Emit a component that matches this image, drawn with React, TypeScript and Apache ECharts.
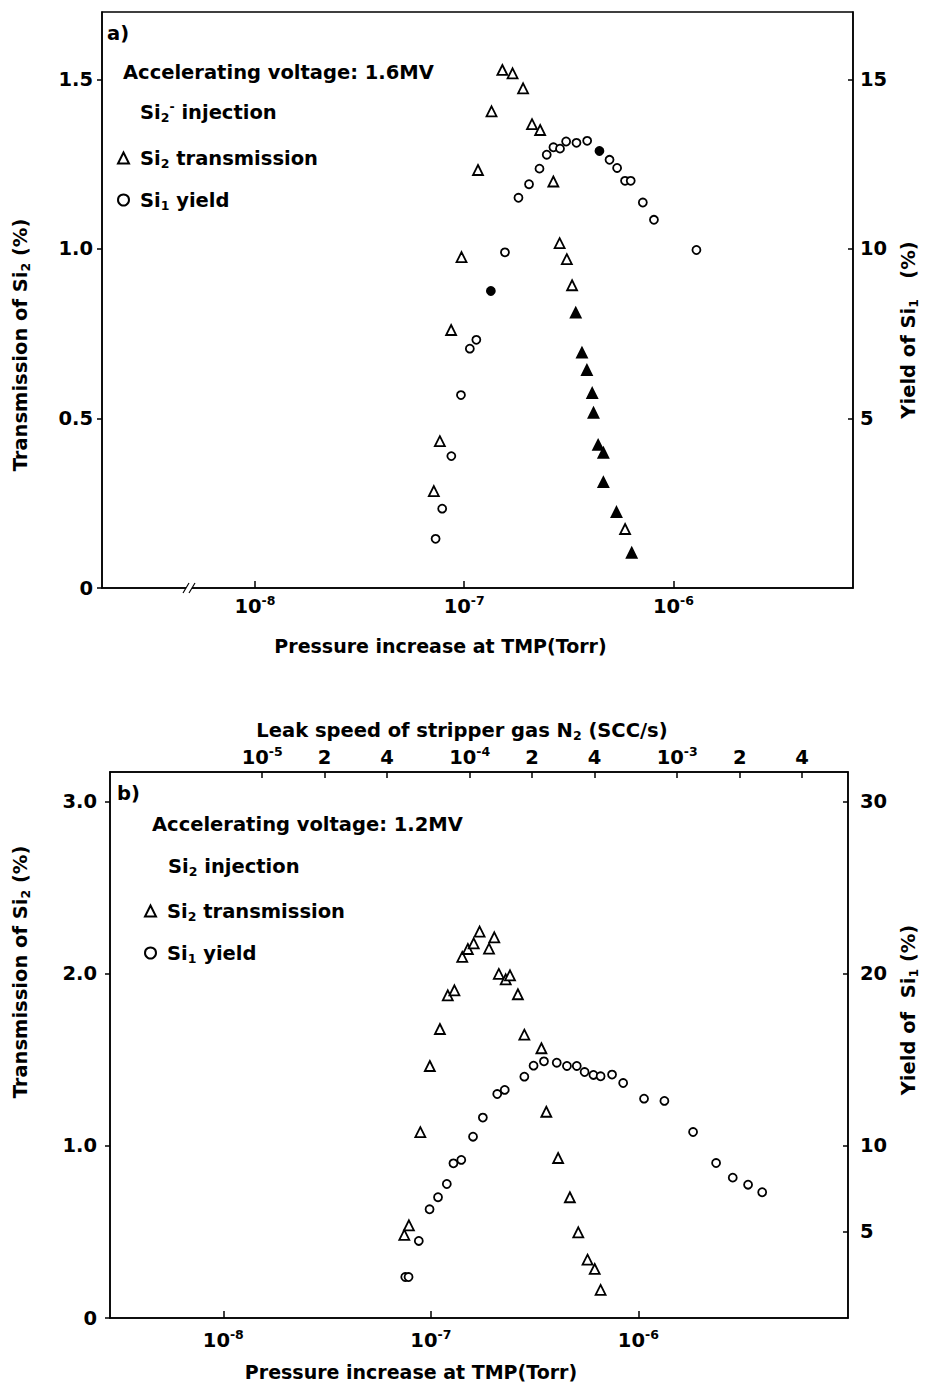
import { useEffect, useRef } from "react";
import * as echarts from "echarts";

// ---------- Panel a) 1.6 MV, Si2- injection ----------
const pressureTransA = [7.16e-8, 7.65e-8, 8.66e-8, 9.71e-8, 1.164e-7, 1.351e-7, 1.522e-7, 1.703e-7, 1.912e-7, 2.109e-7, 2.307e-7, 2.667e-7, 2.858e-7, 3.094e-7, 3.278e-7, 3.412e-7, 3.654e-7, 3.858e-7, 4.091e-7, 4.149e-7, 4.366e-7, 4.625e-7, 4.625e-7, 5.344e-7, 5.874e-7, 6.318e-7];
const transA = [0.286, 0.433, 0.761, 0.976, 1.233, 1.406, 1.528, 1.518, 1.474, 1.368, 1.351, 1.199, 1.017, 0.970, 0.893, 0.812, 0.694, 0.643, 0.575, 0.517, 0.422, 0.399, 0.312, 0.224, 0.174, 0.104];
const pressureYieldA = [7.30e-8, 7.85e-8, 8.68e-8, 9.65e-8, 1.064e-7, 1.143e-7, 1.341e-7, 1.566e-7, 1.817e-7, 2.041e-7, 2.29e-7, 2.48e-7, 2.67e-7, 2.87e-7, 3.07e-7, 3.44e-7, 3.87e-7, 4.43e-7, 4.95e-7, 5.38e-7, 5.87e-7, 6.25e-7, 7.14e-7, 8.07e-7, 1.288e-6];
const yieldA = [1.45, 2.34, 3.89, 5.69, 7.06, 7.32, 8.76, 9.90, 11.51, 11.91, 12.37, 12.78, 13.0, 12.96, 13.17, 13.13, 13.19, 12.89, 12.63, 12.39, 12.01, 12.01, 11.37, 10.86, 9.97];
// markers that print as solid (ink-filled) in the original
const solidTransA = [15, 16, 17, 18, 19, 20, 21, 22, 23, 25];
const solidYieldA = [6, 17];

// ---------- Panel b) 1.2 MV, Si2 injection ----------
const pressureTransB = [7.45e-8, 7.84e-8, 8.90e-8, 9.89e-8, 1.106e-7, 1.207e-7, 1.299e-7, 1.417e-7, 1.508e-7, 1.609e-7, 1.718e-7, 1.907e-7, 2.022e-7, 2.126e-7, 2.295e-7, 2.407e-7, 2.627e-7, 2.822e-7, 3.411e-7, 3.601e-7, 4.105e-7, 4.677e-7, 5.135e-7, 5.690e-7, 6.161e-7, 6.577e-7];
const transB = [0.483, 0.539, 1.080, 1.465, 1.680, 1.876, 1.905, 2.099, 2.145, 2.178, 2.246, 2.147, 2.213, 2.000, 1.969, 1.992, 1.882, 1.647, 1.568, 1.199, 0.930, 0.702, 0.498, 0.339, 0.285, 0.163];
const pressureYieldB = [7.53e-8, 7.81e-8, 8.75e-8, 9.86e-8, 1.083e-7, 1.194e-7, 1.285e-7, 1.402e-7, 1.597e-7, 1.781e-7, 2.089e-7, 2.270e-7, 2.822e-7, 3.126e-7, 3.509e-7, 4.043e-7, 4.527e-7, 5.049e-7, 5.507e-7, 6.075e-7, 6.577e-7, 7.468e-7, 8.448e-7, 1.065e-6, 1.335e-6, 1.835e-6, 2.369e-6, 2.850e-6, 3.378e-6, 3.951e-6];
const yieldB = [2.38, 2.38, 4.48, 6.32, 7.02, 7.79, 8.99, 9.19, 10.54, 11.65, 13.02, 13.26, 14.03, 14.67, 14.92, 14.84, 14.65, 14.65, 14.30, 14.13, 14.05, 14.15, 13.66, 12.75, 12.62, 10.81, 9.01, 8.16, 7.75, 7.31];

// ---------- Ticks ----------
const pressureTicks = [1e-8, 1e-7, 1e-6];
const leakTicks = [1e-5, 2e-5, 4e-5, 1e-4, 2e-4, 4e-4, 1e-3, 2e-3, 4e-3];
const transTicksA = [0, 0.5, 1.0, 1.5];
const yieldTicksA = [5, 10, 15];
const transTicksB = [0, 1, 2, 3];
const yieldTicksB = [5, 10, 20, 30];
// leak speed (SCC/s) per Torr of pressure increase at TMP (top-axis calibration)
const LEAK_PER_TORR = 650;

// axis extents (log10 Torr for x)
const xRangeA = [-8.731, -5.142];
const xRangeB = [-8.546, -4.99];
const transMaxA = 1.699;
const transMaxB = 3.174;

const FONT = "'DejaVu Sans', 'Liberation Sans', Arial, sans-serif";
const t = (size: number) => ({ fontSize: size, fontWeight: "bold", fontFamily: FONT, color: "#000", fill: "#000" });
const RICH: any = {
  n: { ...t(19.5), lineHeight: 24 },
  n0: { ...t(19.5), lineHeight: 24, padding: [0, 0, 0, 6] },
  sub: { ...t(12.5), lineHeight: 12, verticalAlign: "bottom" },
  sup: { ...t(12.5), lineHeight: 12, verticalAlign: "top" },
};

const lg = (arr: number[]) => arr.map((v) => Math.log10(v));
const pts = (ps: number[], vs: number[], solid: number[]) =>
  ps.map((p, i) =>
    solid.includes(i)
      ? { value: [Math.log10(p), vs[i]], itemStyle: { color: "#000" } }
      : [Math.log10(p), vs[i]]
  );

const powLabel = (v: number) => `{n|10}{sup|-${Math.abs(Math.round(v))}}`;
const leakLabel = (v: number) => {
  const e = Math.floor(v + 1e-6);
  const m = Math.round(Math.pow(10, v - e));
  return m === 1 ? `{n|10}{sup|-${Math.abs(e)}}` : `{n|${m}}`;
};

const LEGEND_TEXT: Record<string, string> = {
  "Si2 transmission (1.6MV)": "{n0|Si}{sub|2}{n| transmission}",
  "Si1 yield (1.6MV)": "{n0|Si}{sub|1}{n| yield}",
  "Si2 transmission (1.2MV)": "{n0|Si}{sub|2}{n| transmission}",
  "Si1 yield (1.2MV)": "{n0|Si}{sub|1}{n| yield}",
};

const axisLine = { show: true, onZero: false, lineStyle: { color: "#000", width: 1.5 } };

function buildOption(): any {
  const xBottom = (gridIndex: number, range: number[], margin: number, nameGap: number, padRight: number) => ({
    type: "value",
    gridIndex,
    position: "bottom",
    min: range[0],
    max: range[1],
    axisLine,
    splitLine: { show: false },
    axisTick: { show: true, inside: true, length: 7, customValues: lg(pressureTicks), lineStyle: { color: "#000", width: 1.5 } },
    axisLabel: { customValues: lg(pressureTicks), formatter: powLabel, rich: RICH, margin },
    name: "Pressure increase at TMP(Torr)",
    nameLocation: "middle",
    nameGap,
    nameTextStyle: { ...t(19), padding: [0, padRight, 0, 0] },
  });
  const yAxis = (
    gridIndex: number,
    pos: string,
    max: number,
    ticks: number[],
    fmt: (v: number) => string,
    name: string,
    nameGap: number,
    pad: number[],
    margin: number,
    inside: boolean
  ) => ({
    type: "value",
    gridIndex,
    position: pos,
    min: 0,
    max,
    axisLine,
    splitLine: { show: false },
    axisTick: { show: true, inside, length: 5, customValues: ticks, lineStyle: { color: "#000", width: 1.5 } },
    axisLabel: { customValues: ticks, formatter: fmt, ...t(19.5), margin },
    name,
    nameLocation: "middle",
    nameGap,
    nameTextStyle: { ...t(19), rich: RICH, padding: pad },
  });
  const transFmt = (v: number) => (v === 0 ? "0" : v.toFixed(1));
  const yieldFmt = (v: number) => String(Math.round(v));

  const scatter = (name: string, xi: number, yi: number, symbol: string, size: number, data: any[]) => ({
    type: "scatter",
    name,
    xAxisIndex: xi,
    yAxisIndex: yi,
    symbol,
    symbolSize: size,
    itemStyle: { color: "#fff", borderColor: "#000", borderWidth: 1.8, opacity: 1 },
    emphasis: { disabled: true },
    data,
  });

  const legend = (names: string[], left: number, top: number) => ({
    data: names,
    orient: "vertical",
    left,
    top,
    itemWidth: 11,
    itemHeight: 11,
    itemGap: 20,
    selectedMode: false,
    formatter: (n: string) => LEGEND_TEXT[n],
    textStyle: { ...t(19.5), rich: RICH },
  });

  const label = (x: number, y: number, text: string) => ({
    type: "text",
    x,
    y,
    style: { text, rich: RICH, ...t(19.5), verticalAlign: "middle", align: "left" },
  });

  return {
    animation: false,
    backgroundColor: "#fff",
    grid: [
      { left: 102, top: 12, right: 65, height: 576, show: true, borderColor: "#000", borderWidth: 1.5, backgroundColor: "transparent" },
      { left: 110, top: 772, right: 66, height: 546, show: true, borderColor: "#000", borderWidth: 1.5, backgroundColor: "transparent" },
    ],
    xAxis: [
      xBottom(0, xRangeA, 6, 48, 74),
      xBottom(1, xRangeB, 10, 44, 136),
      {
        type: "value",
        gridIndex: 1,
        position: "top",
        min: xRangeB[0] + Math.log10(LEAK_PER_TORR),
        max: xRangeB[1] + Math.log10(LEAK_PER_TORR),
        axisLine,
        splitLine: { show: false },
        axisTick: { show: true, inside: true, length: 6, customValues: lg(leakTicks), lineStyle: { color: "#000", width: 1.5 } },
        axisLabel: { customValues: lg(leakTicks), formatter: leakLabel, rich: RICH, margin: 3 },
        name: "{n|Leak speed of stripper gas N}{sub|2}{n| (SCC/s)}",
        nameLocation: "middle",
        nameGap: 30,
        nameTextStyle: { ...t(19), rich: RICH, padding: [0, 34, 0, 0] },
      },
    ],
    yAxis: [
      yAxis(0, "left", transMaxA, transTicksA, transFmt, "{n|Transmission of Si}{sub|2}{n| (%)}", 70, [0, 90, 0, 0], 9, false),
      yAxis(0, "right", transMaxA * 10, yieldTicksA, yieldFmt, "{n|Yield of Si}{sub|1}{n|   (%)}", 42, [0, 60, 0, 0], 7, true),
      yAxis(1, "left", transMaxB, transTicksB, transFmt, "{n|Transmission of Si}{sub|2}{n| (%)}", 78, [0, 0, 0, 146], 13, false),
      yAxis(1, "right", transMaxB * 10, yieldTicksB, yieldFmt, "{n|Yield of  Si}{sub|1}{n| (%)}", 45, [0, 0, 0, 70], 12, true),
    ],
    legend: [
      legend(["Si2 transmission (1.6MV)", "Si1 yield (1.6MV)"], 112, 143),
      legend(["Si2 transmission (1.2MV)", "Si1 yield (1.2MV)"], 139, 896),
    ],
    series: [
      scatter("Si2 transmission (1.6MV)", 0, 0, "triangle", 10, pts(pressureTransA, transA, solidTransA)),
      scatter("Si1 yield (1.6MV)", 0, 1, "circle", 8, pts(pressureYieldA, yieldA, solidYieldA)),
      scatter("Si2 transmission (1.2MV)", 1, 2, "triangle", 10, pts(pressureTransB, transB, [])),
      scatter("Si1 yield (1.2MV)", 1, 3, "circle", 8, pts(pressureYieldB, yieldB, [])),
    ],
    graphic: [
      label(107, 33, "{n|a)}"),
      label(123, 72, "{n|Accelerating voltage: 1.6MV}"),
      label(140, 112, "{n|Si}{sub|2}{sup|-}{n| injection}"),
      label(117, 793, "{n|b)}"),
      label(152, 824, "{n|Accelerating voltage: 1.2MV}"),
      label(168, 866, "{n|Si}{sub|2}{n| injection}"),
      // axis-break mark on the bottom axis of panel a
      { type: "rect", shape: { x: 186, y: 584, width: 6, height: 8 }, style: { fill: "#fff" }, z: 100 },
      { type: "line", shape: { x1: 183, y1: 593, x2: 189, y2: 583 }, style: { stroke: "#000", lineWidth: 1.2 }, z: 101 },
      { type: "line", shape: { x1: 189, y1: 593, x2: 195, y2: 583 }, style: { stroke: "#000", lineWidth: 1.2 }, z: 101 },
    ],
  };
}

export default function App() {
  const ref = useRef<HTMLDivElement>(null);
  useEffect(() => {
    if (!ref.current) return;
    const chart = echarts.init(ref.current, undefined, { renderer: "svg" });
    chart.setOption(buildOption());
    return () => chart.dispose();
  }, []);
  return (
    <div
      ref={ref}
      style={{ position: "absolute", left: 0, top: 0, width: 928, height: 1383, background: "#fff" }}
    />
  );
}
